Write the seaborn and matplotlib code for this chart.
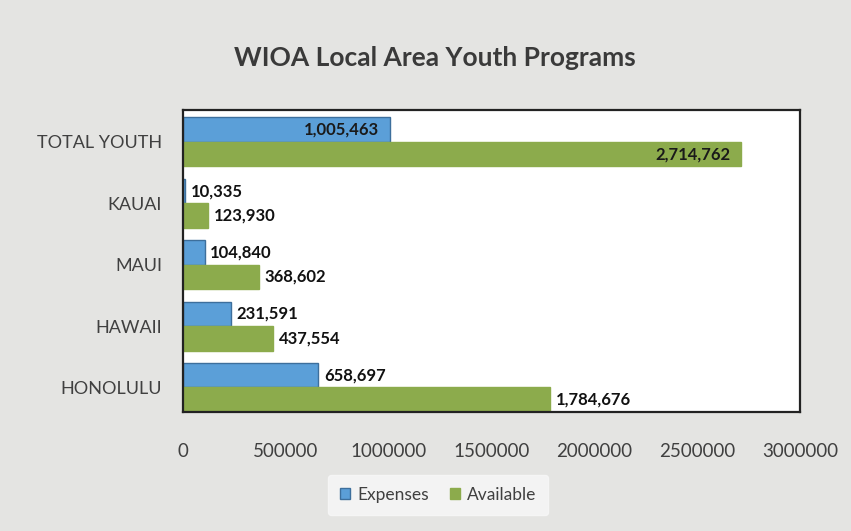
import matplotlib
matplotlib.use("Agg")
import matplotlib.pyplot as plt
import seaborn as sns
import pandas as pd
from matplotlib.patches import Patch

categories = ["TOTAL YOUTH", "KAUAI", "MAUI", "HAWAII", "HONOLULU"]
expenses = [1005463, 10335, 104840, 231591, 658697]
available = [2714762, 123930, 368602, 437554, 1784676]
series = ["Expenses", "Available"]
xticks = [0, 500000, 1000000, 1500000, 2000000, 2500000, 3000000]

df = pd.DataFrame({
    "Area": categories * 2,
    "Value": expenses + available,
    "Series": [series[0]] * len(categories) + [series[1]] * len(categories),
})

sns.set_theme(style="white")
plt.rcParams["font.family"] = ["Lato", "DejaVu Sans"]

BLUE = "#5b9fd8"
GREEN = "#8cab4c"
TXT = "#404040"

fig = plt.figure(figsize=(8.51, 5.31), dpi=100)
fig.patch.set_facecolor("#e4e4e2")
ax = fig.add_axes([183 / 851, 1 - 412 / 531, (800 - 183) / 851, (412 - 110) / 531])
ax.set_facecolor("white")

sns.barplot(data=df, y="Area", x="Value", hue="Series", order=categories,
            hue_order=series, palette=[BLUE, GREEN], orient="h", width=0.8,
            ax=ax, legend=False, saturation=1)

for c, ec in zip(ax.containers, ["#3d6f9c", GREEN]):
    for p in c:
        p.set_edgecolor(ec)
        p.set_linewidth(1.0)

for ci, c in enumerate(ax.containers):
    vals = expenses if ci == 0 else available
    for i, p in enumerate(c):
        v = vals[i]
        yc = p.get_y() + p.get_height() / 2
        label = f"{v:,}"
        if i == 0:
            ax.annotate(label, (p.get_width(), yc), xytext=(-8, 0),
                        textcoords="offset points", ha="right", va="center",
                        fontsize=12, fontweight="bold", color="#1a1a1a")
        else:
            ax.annotate(label, (p.get_width(), yc), xytext=(4, 0),
                        textcoords="offset points", ha="left", va="center",
                        fontsize=12, fontweight="bold", color="#111111")

ax.set_xlim(0, 3000000)
ax.set_ylim(4.4, -0.52)
ax.set_xticks(xticks)
ax.set_xticklabels([str(t) for t in xticks])
ax.set_xlabel("")
ax.set_ylabel("")
ax.tick_params(axis="x", length=0, pad=22, labelsize=13.5, labelcolor=TXT)
ax.tick_params(axis="y", length=0, pad=15, labelsize=13, labelcolor=TXT)
for s in ax.spines.values():
    s.set_visible(True)
    s.set_color("#222222")
    s.set_linewidth(1.6)

fig.text(435 / 851, 1 - 58 / 531, "WIOA Local Area Youth Programs",
         ha="center", va="center", fontsize=19, fontweight="bold", color="#3a3a3a")

handles = [Patch(facecolor=BLUE, edgecolor="#3d6f9c", label=series[0]),
           Patch(facecolor=GREEN, edgecolor=GREEN, label=series[1])]
leg = fig.legend(handles=handles, loc="center", bbox_to_anchor=(438 / 851, 1 - 495 / 531),
                 ncol=2, frameon=True, fontsize=12.5, handlelength=0.6, handleheight=0.6,
                 handletextpad=0.4, columnspacing=1.2, borderpad=0.7)
leg.get_frame().set_facecolor("#f8f8f8")
leg.get_frame().set_edgecolor("#f8f8f8")
for t in leg.get_texts():
    t.set_color(TXT)

fig.savefig("out.png", dpi=100, facecolor=fig.get_facecolor())
